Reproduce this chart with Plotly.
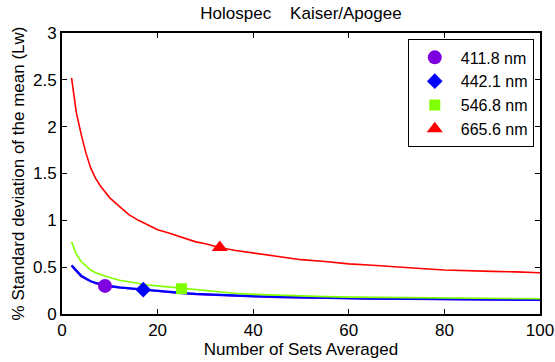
import plotly.graph_objects as go

# Number of sets averaged (x) and % std dev of the mean for each band
n_sets = [2, 3, 4, 5, 6, 7, 8, 9, 10, 12, 14, 16, 18, 20, 22, 25, 28, 30, 33,
          36, 40, 45, 50, 55, 60, 65, 70, 75, 80, 85, 90, 95, 100]

sd_412 = [0.51, 0.45, 0.40, 0.37, 0.345, 0.325, 0.31, 0.298, 0.29, 0.28, 0.27,
          0.26, 0.25, 0.24, 0.233, 0.22, 0.21, 0.205, 0.198, 0.192, 0.185,
          0.178, 0.172, 0.168, 0.165, 0.162, 0.16, 0.157, 0.155, 0.152, 0.15,
          0.149, 0.148]
sd_442 = [0.52, 0.46, 0.41, 0.38, 0.35, 0.333, 0.32, 0.308, 0.30, 0.285, 0.275,
          0.265, 0.255, 0.245, 0.238, 0.225, 0.215, 0.21, 0.203, 0.197, 0.19,
          0.182, 0.175, 0.171, 0.168, 0.165, 0.162, 0.16, 0.158, 0.156, 0.155,
          0.153, 0.152]
sd_547 = [0.77, 0.64, 0.56, 0.51, 0.47, 0.44, 0.42, 0.405, 0.39, 0.36, 0.345,
          0.325, 0.31, 0.30, 0.29, 0.27, 0.255, 0.245, 0.232, 0.222, 0.21,
          0.20, 0.19, 0.185, 0.18, 0.178, 0.175, 0.172, 0.17, 0.168, 0.166,
          0.164, 0.163]
sd_666 = [2.52, 2.15, 1.92, 1.72, 1.56, 1.45, 1.37, 1.30, 1.24, 1.15, 1.06,
          1.00, 0.95, 0.90, 0.87, 0.82, 0.77, 0.75, 0.71, 0.68, 0.65, 0.61,
          0.58, 0.56, 0.535, 0.52, 0.50, 0.485, 0.47, 0.46, 0.455, 0.45, 0.44]

# One highlighted sample per band
bands = ["411.8 nm", "442.1 nm", "546.8 nm", "665.6 nm"]
marker_x = [9, 17, 25, 33]
marker_y = [0.30, 0.26, 0.27, 0.71]
symbols = ["circle", "diamond", "square", "triangle-up"]
sizes = [14, 12, 11, 14]
colors = ["#7F00DF", "#0000FF", "#80FF00", "#FF0000"]

series = [sd_412, sd_442, sd_547, sd_666]

FONT = "Liberation Sans, Arial"
FS = 17

fig = go.Figure()
for vals, col in zip(series, colors):
    fig.add_trace(go.Scatter(x=n_sets, y=vals, mode="lines",
                             line=dict(color=col, width=2.2 if col == "#0000FF" else 1.6),
                             showlegend=False, hoverinfo="skip"))

for name, mx, my, sym, sz, col in zip(bands, marker_x, marker_y, symbols, sizes, colors):
    fig.add_trace(go.Scatter(x=[mx], y=[my], mode="markers", name=name,
                             marker=dict(symbol=sym, size=sz, color=col,
                                         line=dict(width=0))))

axis_common = dict(showline=True, linecolor="black", linewidth=2, mirror="ticks",
                   ticks="inside", ticklen=5, tickwidth=1, tickcolor="black",
                   showgrid=False, zeroline=False, automargin=False,
                   tickfont=dict(family=FONT, size=FS, color="black"))

fig.update_layout(
    width=555, height=362,
    margin=dict(l=62, r=15, t=33, b=48),
    paper_bgcolor="white", plot_bgcolor="white",
    title=dict(text="Holospec\u00a0\u00a0\u00a0\u00a0Kaiser/Apogee", x=0.5, xanchor="center",
               xref="paper", y=1 - 13 / 362, yanchor="middle",
               font=dict(family=FONT, size=FS, color="black")),
    xaxis=dict(range=[0, 100], tickvals=[0, 20, 40, 60, 80, 100],
               title=dict(text="Number of Sets Averaged", standoff=0,
                          font=dict(family=FONT, size=FS, color="black")),
               **axis_common),
    yaxis=dict(range=[0, 3], tickvals=[0, 0.5, 1, 1.5, 2, 2.5, 3],
               ticktext=["0", "0.5", "1", "1.5", "2", "2.5", "3"],
               title=dict(text="% Standard deviation of the mean (Lw)", standoff=4,
                          font=dict(family=FONT, size=FS, color="black")),
               **axis_common),
    legend=dict(x=0.987, xanchor="right", y=0.977, yanchor="top",
                bgcolor="white", bordercolor="black", borderwidth=1,
                font=dict(family=FONT, size=16, color="black"),
                itemwidth=42, tracegroupgap=0),
)

fig.write_html("out.html")
